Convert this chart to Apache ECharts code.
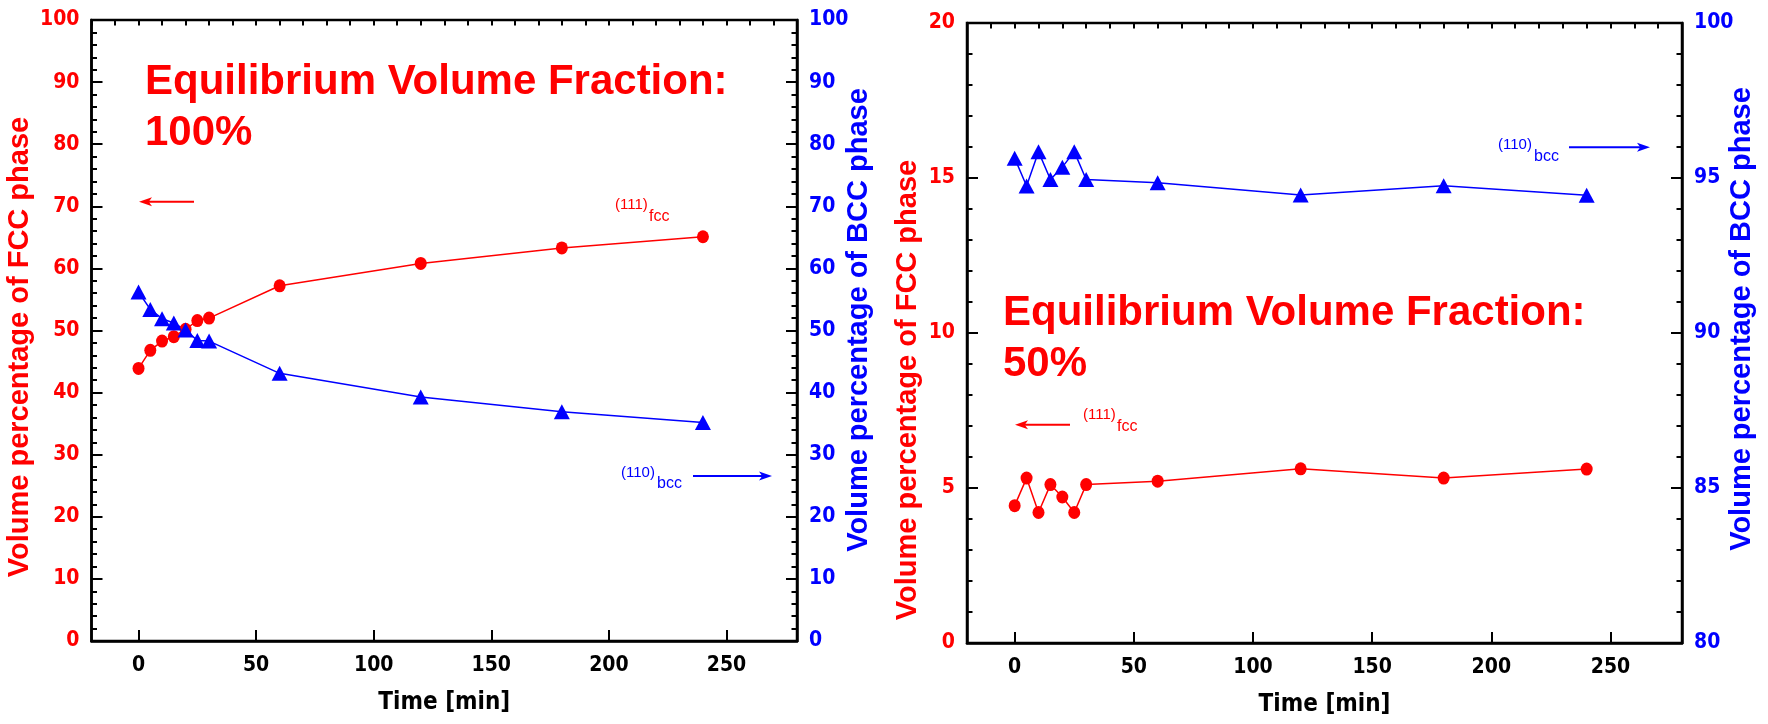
<!DOCTYPE html>
<html lang="en">
<head>
  <meta charset="UTF-8">
  <title>Volume percentage vs time</title>
  <script src="https://cdn.jsdelivr.net/npm/echarts@6/dist/echarts.min.js"></script>
  <style>
    html, body { margin: 0; padding: 0; background: #fff; }
    #main { width: 1768px; height: 724px; }
  </style>
</head>
<body>
<div id="main"></div>
<script>
  // sampling times [min]
  var times = [0, 5, 10, 15, 20, 25, 30, 60, 120, 180, 240];
  // left panel: equilibrium volume fraction 100%
  var fcc100 = [43.9, 46.8, 48.3, 49.0, 50.2, 51.6, 52.0, 57.2, 60.8, 63.3, 65.1];
  var bcc100 = [56.2, 53.4, 51.9, 51.2, 50.1, 48.4, 48.3, 43.1, 39.3, 36.9, 35.2];
  // right panel: equilibrium volume fraction 50%
  var fcc50 = [4.43, 5.32, 4.21, 5.11, 4.71, 4.21, 5.11, 5.22, 5.62, 5.32, 5.61];
  var bcc50 = [95.64, 94.74, 95.85, 94.95, 95.35, 95.85, 94.95, 94.85, 94.45, 94.75, 94.44];
  // x tick labels
  var xTicks = [0, 50, 100, 150, 200, 250];

  var RED = '#ff0000', BLUE = '#0000ff';
  var narrow = "'Liberation Sans Narrow', 'Arial Narrow', 'DejaVu Sans Condensed', sans-serif";
  var arial = "'Liberation Sans', Arial, sans-serif";

  function pairs(xs, ys) {
    return xs.map(function (x, i) { return [x, ys[i]]; });
  }

  function mainX(grid) {
    return {
      type: 'value', gridIndex: grid, min: -20, max: 280,
      name: 'Time [min]', nameLocation: 'middle', nameGap: 50,
      nameTextStyle: { color: '#000', fontFamily: narrow, fontWeight: 'bold', fontSize: 24 },
      axisLine: { show: true, onZero: false, lineStyle: { color: '#000', width: 2.5 } },
      axisTick: { show: true, inside: true, length: 11, customValues: xTicks, lineStyle: { color: '#000', width: 2 } },
      axisLabel: { customValues: xTicks, margin: 14, color: '#000', fontFamily: narrow, fontWeight: 'bold', fontSize: 21 },
      splitLine: { show: false }
    };
  }
  function minorX(grid) {
    return {
      type: 'value', gridIndex: grid, min: -20, max: 280, interval: 10,
      axisLine: { show: false, onZero: false },
      axisTick: { show: true, inside: true, length: 5.5, lineStyle: { color: '#000', width: 2 } },
      axisLabel: { show: false },
      splitLine: { show: false }
    };
  }
  function yAx(grid, pos, min, max, step, color) {
    return {
      type: 'value', gridIndex: grid, position: pos, min: min, max: max, interval: step,
      axisLine: { show: true, onZero: false, lineStyle: { color: '#000', width: 2.5 } },
      axisTick: { show: true, inside: true, length: 11, lineStyle: { color: '#000', width: 2 } },
      minorTick: { show: true, splitNumber: 5, length: 5.5, lineStyle: { color: '#000', width: 2 } },
      axisLabel: { margin: 12, color: color, fontFamily: narrow, fontWeight: 'bold', fontSize: 21 },
      splitLine: { show: false }
    };
  }
  function series(xi, yi, data, color, sym, size) {
    return {
      type: 'line', xAxisIndex: xi, yAxisIndex: yi, data: data,
      symbol: sym, symbolSize: size, showAllSymbol: true,
      lineStyle: { color: color, width: 1.5 },
      itemStyle: { color: color },
      emphasis: { disabled: true }
    };
  }

  // annotation helpers (text + arrows)
  function txt(x, y, s, size, color, weight) {
    return {
      type: 'text', x: x, y: y, z: 100,
      style: { text: s, fill: color, font: (weight || 'normal') + ' ' + size + 'px ' + arial, verticalAlign: 'middle', align: 'left' }
    };
  }
  function vtxt(x, y, s, color) {
    return {
      type: 'text', x: x, y: y, rotation: Math.PI / 2, z: 100,
      style: { text: s, fill: color, font: 'bold 29px ' + arial, verticalAlign: 'middle', align: 'center' }
    };
  }
  function arrow(x1, x2, y, color) {
    var dir = x2 > x1 ? 1 : -1;
    var hl = 13, hw = 4.5;
    return [
      { type: 'line', z: 100, shape: { x1: x1, y1: y, x2: x2 - dir * hl * 0.7, y2: y }, style: { stroke: color, lineWidth: 2 } },
      { type: 'polygon', z: 100, shape: { points: [[x2, y], [x2 - dir * hl, y - hw], [x2 - dir * hl * 0.75, y], [x2 - dir * hl, y + hw]] }, style: { fill: color } }
    ];
  }

  var myChart = echarts.init(document.getElementById('main'));
  myChart.setOption({
    animation: false,
    backgroundColor: '#fff',
    grid: [
      { left: 91.5, top: 20, width: 705.5, height: 621, show: true, borderColor: '#000', borderWidth: 2.5 },
      { left: 967, top: 23, width: 715, height: 620, show: true, borderColor: '#000', borderWidth: 2.5 }
    ],
    xAxis: [mainX(0), minorX(0), mainX(1), minorX(1)],
    yAxis: [
      yAx(0, 'left', 0, 100, 10, RED),
      yAx(0, 'right', 0, 100, 10, BLUE),
      yAx(1, 'left', 0, 20, 5, RED),
      yAx(1, 'right', 80, 100, 5, BLUE)
    ],
    series: [
      series(0, 0, pairs(times, fcc100), RED, 'circle', [12, 13]),
      series(0, 1, pairs(times, bcc100), BLUE, 'triangle', [16, 15]),
      series(2, 2, pairs(times, fcc50), RED, 'circle', [12, 13]),
      series(2, 3, pairs(times, bcc50), BLUE, 'triangle', [16, 15])
    ],
    graphic: [
      vtxt(20, 347, 'Volume percentage of FCC phase', RED),
      vtxt(859, 320, 'Volume percentage of BCC phase', BLUE),
      vtxt(908, 390, 'Volume percentage of FCC phase', RED),
      vtxt(1742, 319, 'Volume percentage of BCC phase', BLUE),
      txt(145, 82, 'Equilibrium Volume Fraction:', 42, RED, 'bold'),
      txt(145, 133, '100%', 42, RED, 'bold'),
      txt(1003, 313, 'Equilibrium Volume Fraction:', 42, RED, 'bold'),
      txt(1003, 364, '50%', 42, RED, 'bold'),
      txt(615, 205, '(111)', 15, RED),
      txt(649, 217, 'fcc', 16, RED),
      txt(621, 473, '(110)', 15, BLUE),
      txt(657, 484, 'bcc', 16, BLUE),
      txt(1083, 415, '(111)', 15, RED),
      txt(1117, 427, 'fcc', 16, RED),
      txt(1498, 145, '(110)', 15, BLUE),
      txt(1534, 157, 'bcc', 16, BLUE)
    ].concat(
      arrow(194, 139, 201.7, RED),
      arrow(693, 772, 476, BLUE),
      arrow(1070, 1015, 424.7, RED),
      arrow(1569, 1650, 147.3, BLUE)
    )
  });
</script>
</body>
</html>
